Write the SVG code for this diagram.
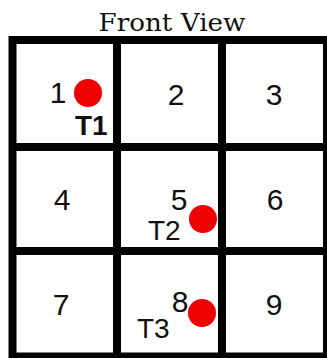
<svg xmlns="http://www.w3.org/2000/svg" width="327" height="358" viewBox="0 0 327 358">
<style>
.grid{fill:none;stroke:#000;stroke-width:8}
.num{font-family:"Liberation Sans",Arial,sans-serif;font-size:30px;fill:#111;text-anchor:middle}
.tl{font-family:"Liberation Sans",Arial,sans-serif;font-size:28px;fill:#111}
.dot{fill:#ee0000}
.title{font-family:"DejaVu Serif",serif;font-size:25px;fill:#111;text-anchor:middle}
</style>
<rect x="0" y="0" width="327" height="358" fill="#fff"/>
<text class="title" x="172" y="31" textLength="147" lengthAdjust="spacingAndGlyphs">Front View</text>
<g id="grid">
<rect class="grid" x="12.5" y="40" width="314.5" height="316.5"/>
<line class="grid" x1="117" y1="40" x2="117" y2="357"/>
<line class="grid" x1="222" y1="40" x2="222" y2="357"/>
<line class="grid" x1="12" y1="147" x2="327" y2="147"/>
<line class="grid" x1="12" y1="251" x2="327" y2="251"/>
</g>
<g id="connectors"></g>
<g id="cell1"><text class="num" x="58" y="103">1</text><circle class="dot" cx="88" cy="93" r="14"/><text class="tl" x="75" y="135" font-weight="bold" font-size="24">T1</text></g>
<g id="cell2"><text class="num" x="176" y="105">2</text></g>
<g id="cell3"><text class="num" x="274" y="105">3</text></g>
<g id="cell4"><text class="num" x="62" y="210">4</text></g>
<g id="cell5"><text class="num" x="179" y="210">5</text><circle class="dot" cx="203" cy="219" r="14"/><text class="tl" x="148" y="240">T2</text></g>
<g id="cell6"><text class="num" x="275" y="210">6</text></g>
<g id="cell7"><text class="num" x="61" y="315">7</text></g>
<g id="cell8"><text class="num" x="180" y="312">8</text><circle class="dot" cx="202" cy="313" r="14"/><text class="tl" x="137" y="338">T3</text></g>
<g id="cell9"><text class="num" x="274" y="315">9</text></g>
</svg>
